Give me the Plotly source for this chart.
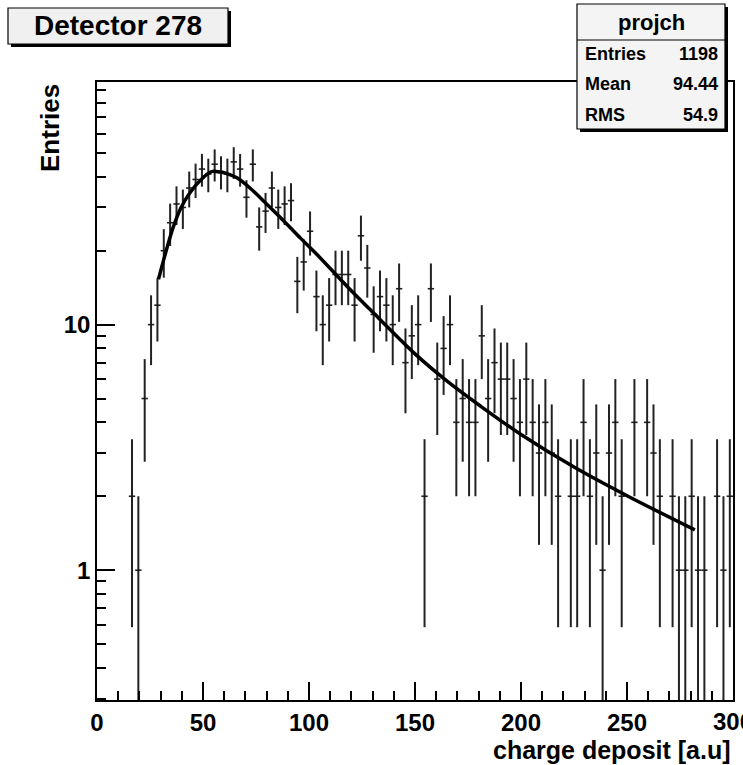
import numpy as np
import plotly.graph_objects as go

# ---------------- data ----------------
bin_width = 3.0
first_bin_low = 15.0          # first non-empty bin spans 15-18
counts = [2, 1, 5, 10, 12, 20, 26, 31, 30, 36,
          39, 43, 41, 45, 42, 41, 46, 43, 33, 45,
          25, 29, 36, 30, 31, 32, 15, 18, 24, 13,
          10, 12, 16, 16, 16, 12, 23, 17, 11, 13,
          12, 10, 14, 7, 9, 10, 2, 14, 6, 8,
          10, 4, 5, 4, 4, 9, 5, 7, 6, 6,
          5, 4, 6, 4, 3, 4, 3, 2, 0, 2,
          2, 4, 2, 3, 1, 3, 4, 2, 0, 4,
          0, 4, 3, 2, 0, 2, 1, 1, 2, 1,
          1, 0, 2, 1, 2]

fit_x = [29, 33, 36, 39.5, 44, 49, 54, 58, 62, 66, 72, 80, 88, 96, 104,
         118, 133, 150, 165, 181, 200, 225, 250, 282]
fit_y = [15.3, 20.5, 25.0, 29.8, 34.6, 38.9, 42.0, 41.8, 41.0, 39.6, 36.1,
         31.0, 26.5, 22.5, 19.2, 14.3, 10.6, 7.6, 5.9, 4.65, 3.57, 2.63,
         2.01, 1.46]

x_tick_vals = [0, 50, 100, 150, 200, 250, 300]
x_minor_vals = list(range(0, 301, 10))
y_tick_vals = [1, 10, 100]
y_tick_text = ["1", "10", "100"]
y_minor_vals = [0.3, 0.4, 0.5, 0.6, 0.7, 0.8, 0.9,
                2, 3, 4, 5, 6, 7, 8, 9,
                20, 30, 40, 50, 60, 70, 80, 90]

title_text = "Detector 278"
stats_name = "projch"
stats_rows = [("Entries", "1198"), ("Mean", "94.44"), ("RMS", "54.9")]
x_title = "charge deposit [a.u]"
y_title = "Entries"

# ---------------- geometry ----------------
W, H = 743, 765
L, R, T, B = 97, 733, 82, 700
PW, PH = R - L, B - T
FONT = "Liberation Sans"


def px(x):
    return (x - L) / PW


def py(y):
    return (B - y) / PH


cnt = np.array(counts, dtype=float)
centers = first_bin_low + bin_width * (np.arange(len(cnt)) + 0.5)
mask = cnt > 0
err = np.sqrt(cnt[mask])
err_minus = np.minimum(err, cnt[mask] * 0.999)

fig = go.Figure()
fig.add_trace(go.Scatter(
    x=centers[mask], y=cnt[mask], mode="markers",
    marker=dict(size=1, color="black"),
    error_y=dict(type="data", symmetric=False, array=err, arrayminus=err_minus,
                 width=0, thickness=2, color="#222"),
    error_x=dict(type="constant", value=bin_width / 2, width=0,
                 thickness=1.6, color="#222"),
    showlegend=False, hoverinfo="skip"))

fig.add_trace(go.Scatter(
    x=fit_x, y=fit_y, mode="lines",
    line=dict(color="black", width=3.5, shape="spline", smoothing=1.0),
    showlegend=False, hoverinfo="skip"))

tickfont = dict(family=FONT, size=24, color="black")
# the last x label (300) is drawn as an annotation so that it is cut by the page edge
x_tick_text = ["<b>%d</b>" % v if v < 300 else "" for v in x_tick_vals]

fig.update_layout(
    width=W, height=H,
    margin=dict(l=L, r=W - R, t=T, b=H - B, pad=0, autoexpand=False),
    paper_bgcolor="white", plot_bgcolor="white",
    xaxis=dict(range=[0, 300], showgrid=False, zeroline=False, automargin=False,
               showline=True, linecolor="black", linewidth=1.5, mirror=True,
               ticks="inside", ticklen=18, tickwidth=1.5, tickcolor="black",
               tickmode="array", tickvals=x_tick_vals, ticktext=x_tick_text,
               tickfont=tickfont,
               minor=dict(tickmode="array", tickvals=x_minor_vals, ticks="inside",
                          ticklen=9, tickwidth=1.5, tickcolor="black",
                          showgrid=False)),
    yaxis=dict(type="log", range=[np.log10(0.296), 1.988], showgrid=False,
               zeroline=False, showline=True, linecolor="black", linewidth=1.5,
               mirror=True, ticks="inside", ticklen=18, tickwidth=1.5,
               automargin=False,
               tickcolor="black", tickmode="array", tickvals=y_tick_vals,
               ticktext=["<b>%s</b>" % t for t in y_tick_text],
               tickfont=tickfont,
               minor=dict(tickmode="array", tickvals=y_minor_vals, ticks="inside",
                          ticklen=9, tickwidth=1.5, tickcolor="black",
                          showgrid=False)),
)

shapes = []
annotations = []

annotations.append(dict(xref="x", yref="paper", x=x_tick_vals[-1], y=py(721),
                        xanchor="center", yanchor="middle",
                        text="<b>%d</b>" % x_tick_vals[-1], showarrow=False,
                        font=tickfont))

# title box with shadow
tb = (8, 8, 228, 44)
shapes.append(dict(type="rect", xref="paper", yref="paper",
                   x0=px(tb[0] + 3), x1=px(tb[2] + 3), y0=py(tb[3] + 3), y1=py(tb[1] + 3),
                   fillcolor="black", line=dict(width=0), layer="above"))
shapes.append(dict(type="rect", xref="paper", yref="paper",
                   x0=px(tb[0]), x1=px(tb[2]), y0=py(tb[3]), y1=py(tb[1]),
                   fillcolor="#f0f0f0", line=dict(color="black", width=1.2), layer="above"))
annotations.append(dict(xref="paper", yref="paper", x=px((tb[0] + tb[2]) / 2),
                        y=py((tb[1] + tb[3]) / 2), xanchor="center", yanchor="middle",
                        text="<b>%s</b>" % title_text, showarrow=False,
                        font=dict(family=FONT, size=28, color="black")))

# stats box with shadow
sb = (577, 4, 725, 129)
shapes.append(dict(type="rect", xref="paper", yref="paper",
                   x0=px(sb[0] + 3), x1=px(sb[2] + 3), y0=py(sb[3] + 3), y1=py(sb[1] + 3),
                   fillcolor="black", line=dict(width=0), layer="above"))
shapes.append(dict(type="rect", xref="paper", yref="paper",
                   x0=px(sb[0]), x1=px(sb[2]), y0=py(sb[3]), y1=py(sb[1]),
                   fillcolor="#f4f4f4", line=dict(color="black", width=1.2), layer="above"))
shapes.append(dict(type="line", xref="paper", yref="paper",
                   x0=px(sb[0]), x1=px(sb[2]), y0=py(40), y1=py(40),
                   line=dict(color="black", width=1.2), layer="above"))
annotations.append(dict(xref="paper", yref="paper", x=px((sb[0] + sb[2]) / 2), y=py(22),
                        xanchor="center", yanchor="middle",
                        text="<b>%s</b>" % stats_name, showarrow=False,
                        font=dict(family=FONT, size=22, color="black")))
row_y = [54, 84, 115]
for (lab, val), yy in zip(stats_rows, row_y):
    annotations.append(dict(xref="paper", yref="paper", x=px(sb[0] + 6), y=py(yy),
                            xanchor="left", yanchor="middle", text="<b>%s</b>" % lab,
                            showarrow=False, font=dict(family=FONT, size=18, color="black")))
    annotations.append(dict(xref="paper", yref="paper", x=px(sb[2] - 5), y=py(yy),
                            xanchor="right", yanchor="middle", text="<b>%s</b>" % val,
                            showarrow=False, font=dict(family=FONT, size=18, color="black")))

# axis titles
annotations.append(dict(xref="paper", yref="paper", x=px(R), y=py(750),
                        xanchor="right", yanchor="middle", text="<b>%s</b>" % x_title,
                        showarrow=False, font=dict(family=FONT, size=25, color="black")))
annotations.append(dict(xref="paper", yref="paper", x=px(50), y=py(128),
                        xanchor="center", yanchor="middle", text="<b>%s</b>" % y_title,
                        textangle=-90, showarrow=False,
                        font=dict(family=FONT, size=26, color="black")))

fig.update_layout(shapes=shapes, annotations=annotations)
fig.write_html("out.html")
